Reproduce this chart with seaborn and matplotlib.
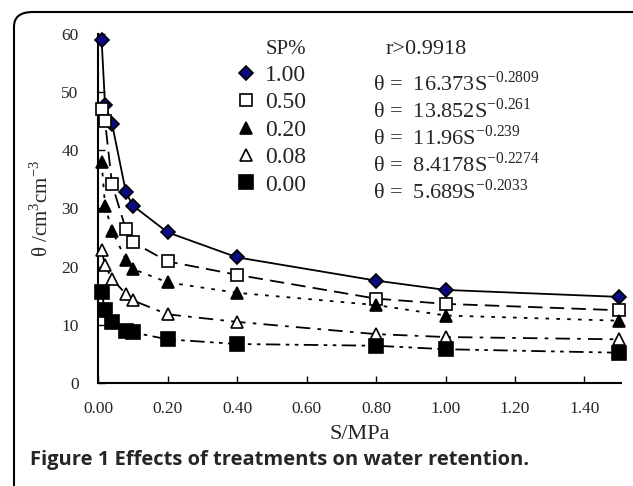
import numpy as np
import pandas as pd
import matplotlib
matplotlib.use("Agg")
import matplotlib.pyplot as plt
from matplotlib.patches import FancyBboxPatch
from matplotlib.lines import Line2D
import seaborn as sns

# suction values (MPa) and water content for each SP% treatment
suction = [0.01, 0.02, 0.04, 0.08, 0.10, 0.20, 0.40, 0.80, 1.00, 1.50]
sp_100 = [59.0, 47.8, 44.6, 32.8, 30.5, 25.9, 21.6, 17.6, 16.0, 14.8]
sp_050 = [47.1, 45.0, 34.2, 26.4, 24.2, 20.9, 18.6, 14.5, 13.6, 12.5]
sp_020 = [38.0, 30.5, 26.2, 21.2, 19.6, 17.3, 15.5, 13.4, 11.6, 10.7]
sp_008 = [22.9, 20.2, 17.9, 15.3, 14.2, 11.8, 10.5, 8.4, 7.9, 7.5]
sp_000 = [15.6, 12.5, 10.4, 9.0, 8.7, 7.5, 6.7, 6.4, 5.8, 5.2]

sp_labels = ["1.00", "0.50", "0.20", "0.08", "0.00"]
equations = [
    r"θ =  16.373S$^{\mathregular{-0.2809}}$",
    r"θ =  13.852S$^{\mathregular{-0.261}}$",
    r"θ =  11.96S$^{\mathregular{-0.239}}$",
    r"θ =  8.4178S$^{\mathregular{-0.2274}}$",
    r"θ =  5.689S$^{\mathregular{-0.2033}}$",
]
x_ticks = [0.0, 0.2, 0.4, 0.6, 0.8, 1.0, 1.2, 1.4]
y_ticks = [0, 10, 20, 30, 40, 50, 60]

series = [sp_100, sp_050, sp_020, sp_008, sp_000]
markers = ["D", "s", "^", "^", "s"]
faces = ["#0a0a80", "white", "black", "white", "black"]
sizes = [7, 9, 9, 9, 10]
dashes = ["-", (0, (8, 4)), (0, (2, 4)), (0, (8, 4, 2, 4)), (0, (8, 3, 2, 3, 2, 3))]

sns.set_theme(style="white")
plt.rcParams["font.family"] = ["Liberation Serif", "DejaVu Serif"]
plt.rcParams["mathtext.fontset"] = "custom"
plt.rcParams["mathtext.rm"] = "Liberation Serif"

fig = plt.figure(figsize=(6.33, 4.86), dpi=100)
ax = fig.add_axes([0.155, 0.212, 0.826, 0.718])

for vals, lab, mk, fc, ms, ls in zip(series, sp_labels, markers, faces, sizes, dashes):
    df = pd.DataFrame({"S": suction, "theta": vals})
    sns.lineplot(data=df, x="S", y="theta", ax=ax, color="black", lw=1.3,
                 linestyle=ls, marker=mk, markersize=ms, markerfacecolor=fc,
                 markeredgecolor="black", markeredgewidth=1.2, clip_on=False,
                 zorder=3)

ax.set_xlim(0, 1.505)
ax.set_ylim(0, 60)
ax.set_xticks(x_ticks)
ax.set_xticklabels([f"{t:.2f}" for t in x_ticks])
ax.set_yticks(y_ticks)
ax.tick_params(axis="both", direction="in", length=5, width=1, color="black",
               labelsize=12.5, bottom=True, left=True)
ax.tick_params(axis="x", pad=13)
ax.tick_params(axis="y", pad=14)
for side in ["top", "right"]:
    ax.spines[side].set_visible(False)
for side in ["left", "bottom"]:
    ax.spines[side].set_color("black")
    ax.spines[side].set_linewidth(1.5)

ax.set_xlabel("S/MPa", fontsize=16, labelpad=6)
ax.set_ylabel(r"θ /cm$^{\mathregular{3}}$cm$^{\mathregular{-3}}$", fontsize=15, labelpad=6)

# legend with markers only
handles = [Line2D([], [], ls="none", marker=mk, markersize=ms, markerfacecolor=fc,
                  markeredgecolor="black", markeredgewidth=1.2)
           for mk, fc, ms in zip(markers, faces, sizes)]
leg = ax.legend(handles, sp_labels, title="SP%", loc="upper left",
                bbox_to_anchor=(0.225, 1.045), frameon=False, fontsize=17,
                title_fontsize=15, handlelength=0.8, handletextpad=0.4,
                labelspacing=0.25)
leg._legend_box.align = "right"

ax.text(0.55, 0.955, "r>0.9918", transform=ax.transAxes, fontsize=16,
        ha="left", va="center")
eq_y = [0.858, 0.781, 0.704, 0.627, 0.55]
for yy, eq in zip(eq_y, equations):
    ax.text(0.525, yy, eq, transform=ax.transAxes, fontsize=16,
            ha="left", va="center")

fig.text(30 / 633, 1 - 460 / 486, "Figure 1 Effects of treatments on water retention.",
         fontsize=14.5, fontweight="bold", family=["Open Sans", "DejaVu Sans"],
         ha="left", va="center")

border = FancyBboxPatch((14 / 633, -0.2), 1.2, 1.0 - 12 / 486 + 0.2,
                        boxstyle="round,pad=0,rounding_size=0.03",
                        transform=fig.transFigure, fill=False, ec="black",
                        lw=1.5, clip_on=False)
fig.patches.append(border)

fig.savefig("out.png", dpi=100)
